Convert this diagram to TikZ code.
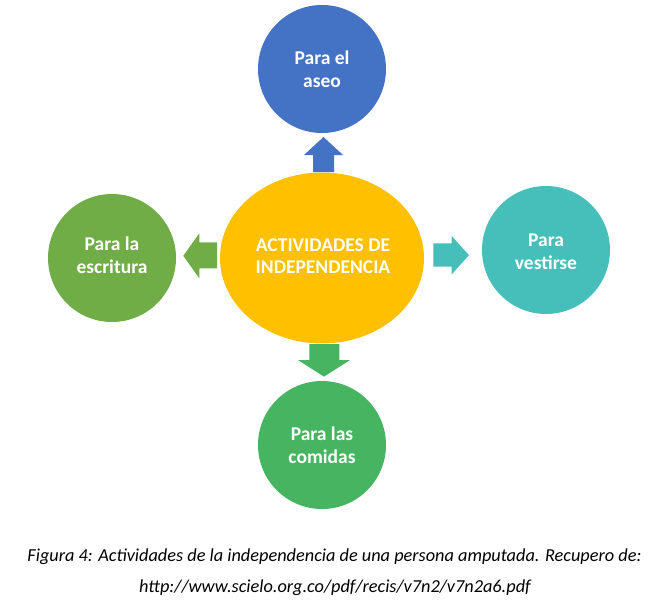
\documentclass[tikz,border=0pt]{standalone}
\usepackage{fontspec}
\setmainfont{Carlito}
\usetikzlibrary{shapes.geometric}
\definecolor{cblue}{HTML}{4472C4}
\definecolor{cgreenl}{HTML}{70AD47}
\definecolor{cteal}{HTML}{46BFBB}
\definecolor{cgreenb}{HTML}{47B462}
\definecolor{cgold}{HTML}{FFC000}
\tikzset{
  bubble/.style={circle, minimum size=128pt, inner sep=0pt},
  btext/.style={text=white, font=\fontsize{19.5}{23}\selectfont\bfseries, align=center, inner sep=0pt},
  captxt/.style={font=\fontsize{18.3}{22}\selectfont\itshape, inner sep=0pt},
}
\begin{document}
\begin{tikzpicture}[x=1pt,y=-1pt]
\useasboundingbox (0,0) rectangle (666,610);
\fill[white] (0,0) rectangle (666,610);
\node[ellipse, fill=cgold, minimum width=204pt, minimum height=171pt, inner sep=0pt] (c) at (322,258) {};
\node[btext] (ct) at (323,256.5) {ACTIVIDADES DE\\[-1pt]INDEPENDENCIA};
\node[bubble, fill=cblue] (top) at (322,69) {};
\node[btext] (tt) at (322,69) {Para el\\aseo};
\node[bubble, fill=cgreenl] (left) at (112,258) {};
\node[btext] (lt) at (112,255) {Para la\\escritura};
\node[bubble, fill=cteal] (right) at (546,250) {};
\node[btext] (rt) at (546,251.5) {Para\\vestirse};
\node[bubble, fill=cgreenb] (bot) at (322,445) {};
\node[btext] (bt) at (322,445) {Para las\\comidas};
% block arrows
\fill[cblue] (313,172) -- (313,155) -- (304,155) -- (323.5,137) -- (343,155) -- (334,155) -- (334,172) -- cycle;
\fill[cgreenl] (217,242.3) -- (199.3,242.3) -- (199.3,233.3) -- (183.3,255.8) -- (199.3,278.3) -- (199.3,268.3) -- (217,268.3) -- cycle;
\fill[cteal] (433.3,243.3) -- (451.7,243.3) -- (451.7,236) -- (469,255.2) -- (451.7,274.3) -- (451.7,266.7) -- (433.3,266.7) -- cycle;
\fill[cgreenb] (309.3,344) -- (339.3,344) -- (339.3,360) -- (350,360) -- (324,376.7) -- (298,360) -- (309.3,360) -- cycle;
\node[captxt] (cap1) at (334.5,557) {Figura 4: Actividades de la independencia de una persona amputada. Recupero de:};
\node[captxt] (cap2) at (335,588) {http://www.scielo.org.co/pdf/recis/v7n2/v7n2a6.pdf};
\end{tikzpicture}
\end{document}
